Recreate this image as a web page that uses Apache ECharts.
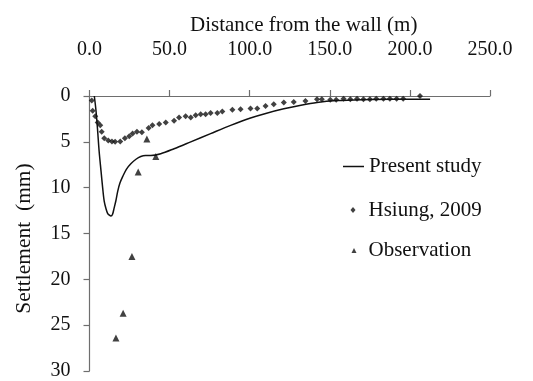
<!DOCTYPE html>
<html><head><meta charset="utf-8">
<script src="https://cdn.jsdelivr.net/npm/echarts@6/dist/echarts.min.js"></script>
<style>html,body{margin:0;padding:0;background:#fff}#c{width:533px;height:381px}</style>
</head><body><div id="c"></div>
<script>
var xTicks = [0, 50, 100, 150, 200, 250];
var yTicks = [0, 5, 10, 15, 20, 25, 30];
var presentX = [3, 4, 5, 6, 7.2, 8.2, 9.2, 10.3, 11.3, 12.4, 13.4, 14.4, 15.4, 16.5, 17.6, 19, 20.7, 23, 25.8, 29, 32, 35, 38.3, 44.5, 52.8, 63.2, 75.6, 88.1, 100.5, 110, 121.3, 132, 142, 154.5, 170, 190, 212.6];
var presentY = [0, 1.5, 3.6, 6.0, 8.2, 10.0, 11.5, 12.3, 12.8, 13.0, 13.1, 12.9, 12.2, 11.4, 10.4, 9.5, 8.8, 8.0, 7.4, 6.9, 6.6, 6.5, 6.5, 6.3, 5.75, 5.0, 4.1, 3.2, 2.4, 1.9, 1.4, 1.0, 0.7, 0.5, 0.4, 0.35, 0.35];
var hsiungX = [1.4, 2.0, 3.6, 5.1, 6.7, 7.6, 9.2, 11.7, 14, 16, 19.2, 22.1, 24.8, 26.9, 29.6, 32.7, 36.9, 39.3, 43.5, 47.6, 52.8, 55.9, 60, 63.2, 66.3, 69.4, 72.5, 75.6, 79.8, 82.9, 89.2, 94.3, 100.5, 104.7, 109.9, 115, 121.3, 127.5, 134.8, 142, 145, 150.3, 154, 158.6, 162.8, 167, 171, 175, 179, 183.5, 187.5, 191.7, 195.8, 206.3];
var hsiungY = [0.5, 1.6, 2.2, 2.9, 3.2, 3.9, 4.6, 4.85, 4.95, 5.0, 4.95, 4.6, 4.4, 4.1, 3.9, 3.95, 3.5, 3.2, 3.05, 2.9, 2.7, 2.35, 2.2, 2.35, 2.1, 2.0, 2.0, 1.85, 1.85, 1.7, 1.5, 1.45, 1.35, 1.35, 1.1, 0.9, 0.7, 0.65, 0.55, 0.35, 0.35, 0.4, 0.4, 0.3, 0.35, 0.3, 0.35, 0.35, 0.3, 0.3, 0.3, 0.3, 0.3, 0.0];
var obsX = [16.5, 21, 26.5, 30.4, 35.8, 41.4];
var obsY = [26.4, 23.7, 17.5, 8.3, 4.7, 6.6];

function pairs(xs, ys) { return xs.map(function (x, i) { return [x, ys[i]]; }); }
var font = 'Liberation Serif';
var ink = '#111';
var axisCol = '#6e6e6e';
function legendFor(name, icon, left, top, w, h, pad) {
  return {
    orient: 'vertical', left: left, top: top, itemWidth: w, itemHeight: h, padding: 0,
    icon: icon, selectedMode: false, data: [name],
    textStyle: {fontFamily: font, fontSize: 21, color: ink, padding: [0, 0, 0, pad]}
  };
}
var chart = echarts.init(document.getElementById('c'), null, {renderer: 'canvas'});
chart.setOption({
  animation: false,
  backgroundColor: '#fff',
  textStyle: {fontFamily: font, color: ink},
  title: {
    text: 'Distance from the wall (m)', left: 185, top: 10,
    textStyle: {fontFamily: font, fontSize: 21, fontWeight: 'normal', color: ink}
  },
  grid: {left: 89.5, top: 96, width: 400.5, height: 278},
  legend: [
    legendFor('Present study', 'rect', 343, 156, 21, 1.5, 0),
    legendFor('Hsiung, 2009', 'diamond', 350.5, 199.5, 5, 6, 8),
    legendFor('Observation', 'triangle', 351.5, 240, 5, 5, 7)
  ],
  xAxis: {
    type: 'value', position: 'top', min: 0, max: 250, interval: 50,
    axisLine: {lineStyle: {color: axisCol, width: 1.2}},
    axisTick: {show: true, length: 6, lineStyle: {color: axisCol, width: 1.2}},
    splitLine: {show: false},
    axisLabel: {fontFamily: font, fontSize: 20, color: ink, margin: 36,
      formatter: function (v) { return xTicks.indexOf(v) >= 0 ? v.toFixed(1) : ''; }}
  },
  yAxis: {
    type: 'value', inverse: true, min: 0, max: 30, interval: 5,
    name: 'Settlement  (mm)', nameLocation: 'middle', nameGap: 54, nameRotate: 90,
    nameTextStyle: {fontFamily: font, fontSize: 21.5, color: ink, padding: [0, 10, 0, 0]},
    axisLine: {show: true, lineStyle: {color: axisCol, width: 1.2}},
    axisTick: {show: true, length: 6, lineStyle: {color: axisCol, width: 1.2}},
    splitLine: {show: false},
    axisLabel: {fontFamily: font, fontSize: 20, color: ink, margin: 19,
      formatter: function (v) { return yTicks.indexOf(v) >= 0 ? String(v) : ''; }}
  },
  series: [
    {name: 'Present study', type: 'line', data: pairs(presentX, presentY), symbol: 'none',
     smooth: 0.3, lineStyle: {color: ink, width: 1.5}, itemStyle: {color: ink}},
    {name: 'Hsiung, 2009', type: 'scatter', data: pairs(hsiungX, hsiungY), symbol: 'diamond',
     symbolSize: 6, itemStyle: {color: ink}},
    {name: 'Observation', type: 'scatter', data: pairs(obsX, obsY), symbol: 'triangle',
     symbolSize: 7, itemStyle: {color: ink}}
  ]
});
</script></body></html>
